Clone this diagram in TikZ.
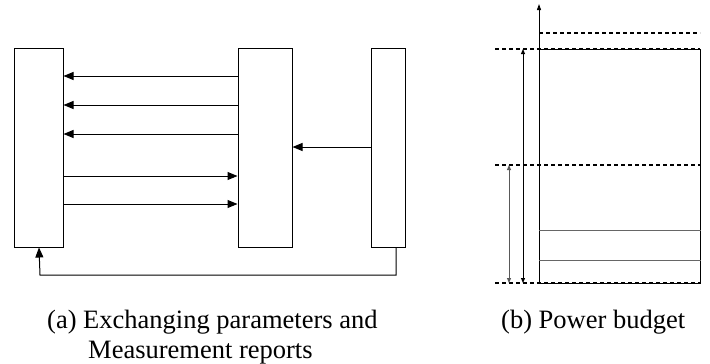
\documentclass[tikz,border=0pt]{standalone}
\usepackage{fontspec}
\setmainfont{Liberation Serif}
\usetikzlibrary{arrows.meta}
\begin{document}
\begin{tikzpicture}[x=1pt,y=-1pt,
  entity/.style={draw,line width=1pt,minimum height=199pt,inner sep=0pt},
  arr/.style={line width=1pt,-{Triangle[length=10pt,width=8pt]}},
  dim/.style={line width=1pt,{Triangle[length=5pt,width=4pt]}-{Triangle[length=5pt,width=4pt]}},
  level/.style={line width=1.5pt,dash pattern=on 4pt off 3pt},
  caption/.style={font=\fontsize{26.5}{30}\selectfont,anchor=base west,inner sep=0pt}]
\useasboundingbox (0,0) rectangle (710,364);

% left panel: three entities
\node[entity,minimum width=49pt] (ue)  at (38.5,147.5) {};
\node[entity,minimum width=54pt] (bs)  at (265,147.5) {};
\node[entity,minimum width=34pt] (ctl) at (388,147.5) {};

\foreach \y in {76,105,134}
  \draw[arr] (bs.west |- 0,\y) -- (ue.east |- 0,\y);
\foreach \y in {176,204}
  \draw[arr] (ue.east |- 0,\y) -- (bs.west |- 0,\y);
\draw[arr] (ctl.west |- 0,147) -- (bs.east |- 0,147);
\draw[arr] (ctl.south -| 396,0) -- (396,275) -- (40,275) -- (ue.south -| 39,0);

% right panel: power budget
\coordinate (ax0) at (539,283);
\coordinate (ax1) at (539,4);
\draw[line width=1pt,-{Triangle[length=6pt,width=4pt]}] (ax0) -- (ax1);
\node[draw,line width=1pt,anchor=north west,minimum width=161pt,minimum height=234pt,inner sep=0pt] (budget) at (539,49) {};
\draw[line width=1pt,gray!80!black] (budget.west |- 0,230) -- (budget.east |- 0,230);
\draw[line width=1pt,gray!80!black] (budget.west |- 0,260) -- (budget.east |- 0,260);
\draw[level] (539,33) -- (700,33);
\draw[level] (495,49) -- (700,49);
\draw[level] (495,165) -- (700,165);
\draw[level] (495,283) -- (700,283);
\draw[dim] (523,49) -- (523,283);
\draw[dim,gray!70!black] (509,165) -- (509,283);

% captions
\node[caption] (capa) at (47,328) {(a) Exchanging parameters and};
\node[caption] (capa2) at (88,358) {Measurement reports};
\node[caption] (capb) at (501,328) {(b) Power budget};
\end{tikzpicture}
\end{document}
